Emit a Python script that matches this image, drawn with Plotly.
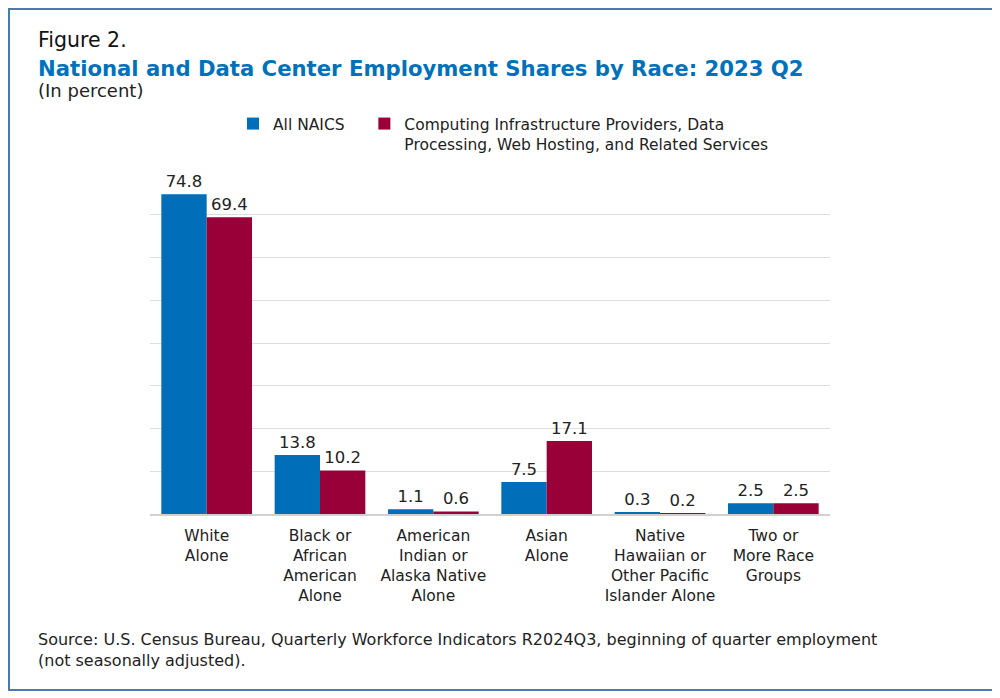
import plotly.graph_objects as go

categories = ['White<br>Alone',
              'Black or<br>African<br>American<br>Alone',
              'American<br>Indian or<br>Alaska Native<br>Alone',
              'Asian<br>Alone',
              'Native<br>Hawaiian or<br>Other Pacific<br>Islander Alone',
              'Two or<br>More Race<br>Groups']
all_naics = [74.8, 13.8, 1.1, 7.5, 0.3, 2.5]
data_center = [69.4, 10.2, 0.6, 17.1, 0.2, 2.5]

series_names = ['All NAICS\u00a0\u00a0\u00a0',
                'Computing Infrastructure Providers, Data<br>Processing, Web Hosting, and Related Services']

blue = '#006EB8'
red = '#990038'
font = 'DejaVu Sans'

W, H = 1000, 698
OFF = 8  # page margin around the figure
# plot area in screen pixels
L, R, T, B = 150, 830, 172, 514


def px(x):
    return (x - L) / (R - L)


def py(y):
    return (B - y) / (B - T)


fig = go.Figure()
fig.add_trace(go.Bar(x=categories, y=all_naics, name=series_names[0], marker_color=blue,
                     text=[f'{v:.1f}' for v in all_naics], textposition='outside',
                     cliponaxis=False))
fig.add_trace(go.Bar(x=categories, y=data_center, name=series_names[1], marker_color=red,
                     text=[f'{v:.1f}' for v in data_center], textposition='outside',
                     cliponaxis=False))
fig.update_traces(textfont=dict(size=16.5, color='#222222', family=font), marker_line_width=0)

fig.update_yaxes(range=[0, 80], dtick=10, showticklabels=False, gridcolor='#dddddd',
                 gridwidth=1, zeroline=False)
fig.update_xaxes(showline=True, linecolor='#d0d0d0', linewidth=2, ticklabelstandoff=6,
                 tickfont=dict(size=15.5, color='#222222', family=font))

fig.update_layout(
    width=W, height=H,
    margin=dict(l=L - OFF, r=W - R + OFF, t=T - OFF, b=H - B + OFF),
    paper_bgcolor='white', plot_bgcolor='white',
    barmode='group', bargap=0.2, bargroupgap=0,
    font=dict(family=font, color='#222222'),
    showlegend=True,
    legend=dict(orientation='h', x=px(233), y=py(107), xanchor='left', yanchor='top',
                font=dict(size=15.5, color='#222222', family=font), valign='top',
                traceorder='normal', itemwidth=30),
)

annos = [
    dict(text='Figure 2.', x=px(36), y=py(40), font=dict(size=20.5, color='#111111')),
    dict(text='<b>National and Data Center Employment Shares by Race: 2023 Q2</b>',
         x=px(36), y=py(68), font=dict(size=21.2, color='#0071BB')),
    dict(text='(In percent)', x=px(36), y=py(91), font=dict(size=18, color='#222222')),
    dict(text='Source: U.S. Census Bureau, Quarterly Workforce Indicators R2024Q3, beginning of quarter employment<br>'
              '(not seasonally adjusted).',
         x=px(36), y=py(650), font=dict(size=16, color='#222222')),
]
for a in annos:
    fig.add_annotation(xref='paper', yref='paper', xanchor='left', yanchor='middle',
                       showarrow=False, align='left', **a)

fig.add_shape(type='rect', xref='paper', yref='paper',
              x0=px(9), x1=px(996), y0=py(690), y1=py(9),
              line=dict(color='#4A7AB5', width=2), fillcolor='rgba(0,0,0,0)')

fig.write_html('out.html')
